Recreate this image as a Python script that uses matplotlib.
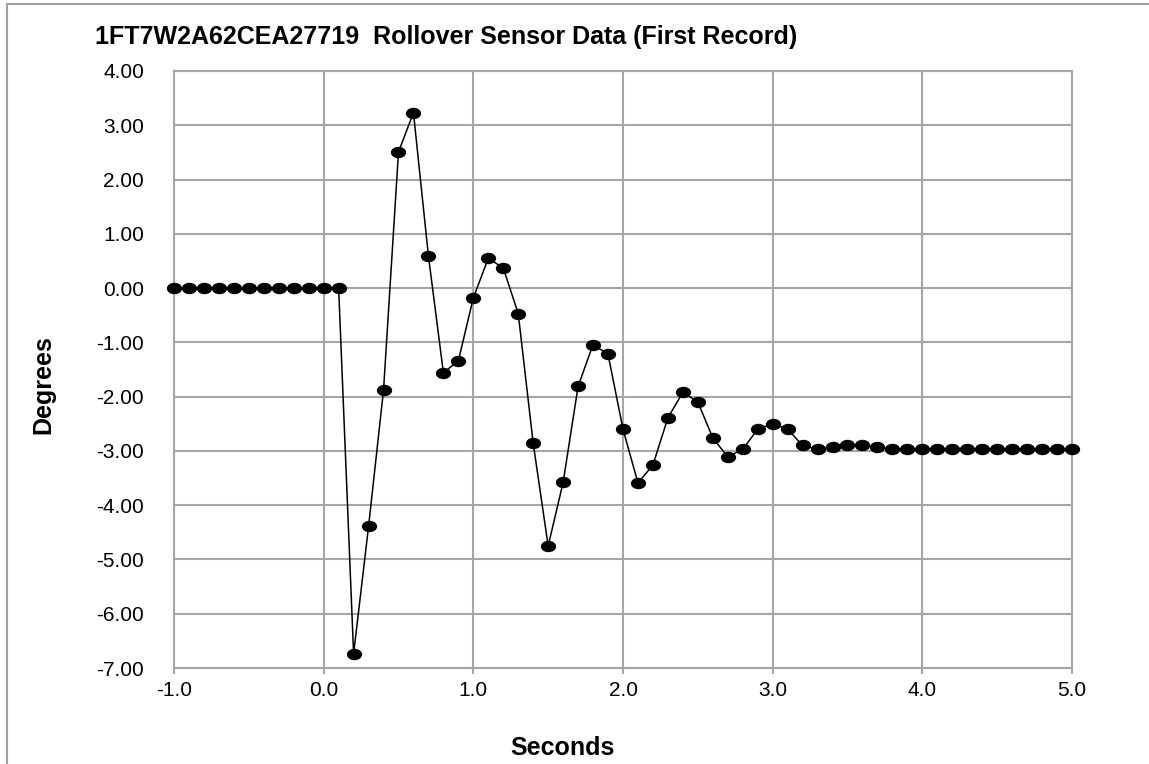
import matplotlib
matplotlib.use("Agg")
import matplotlib.pyplot as plt
from matplotlib.path import Path
from matplotlib.patches import Rectangle
import numpy as np

plt.rcParams['font.family'] = ['Liberation Sans', 'DejaVu Sans']

title = "1FT7W2A62CEA27719  Rollover Sensor Data (First Record)"
x_label = "Seconds"
y_label = "Degrees"

seconds = [round(-1.0 + 0.1 * i, 1) for i in range(61)]
degrees = [
    0.00, 0.00, 0.00, 0.00, 0.00, 0.00, 0.00, 0.00, 0.00, 0.00,   # -1.0 .. -0.1
    0.00, 0.00, -6.74, -4.39, -1.88, 2.51, 3.23, 0.59, -1.56, -1.34,  # 0.0 .. 0.9
    -0.18, 0.55, 0.37, -0.47, -2.86, -4.75, -3.58, -1.81, -1.04, -1.22,  # 1.0 .. 1.9
    -2.60, -3.59, -3.26, -2.39, -1.92, -2.10, -2.76, -3.11, -2.97, -2.60,  # 2.0 .. 2.9
    -2.50, -2.60, -2.90, -2.97, -2.93, -2.90, -2.90, -2.93, -2.97, -2.97,  # 3.0 .. 3.9
    -2.97, -2.97, -2.97, -2.97, -2.97, -2.97, -2.97, -2.97, -2.97, -2.97,  # 4.0 .. 4.9
    -2.97,  # 5.0
]

x_ticks = [-1.0, 0.0, 1.0, 2.0, 3.0, 4.0, 5.0]
y_ticks = [4, 3, 2, 1, 0, -1, -2, -3, -4, -5, -6, -7]

W, H = 1149, 764
fig = plt.figure(figsize=(W / 100, H / 100), dpi=100)
ax = fig.add_axes([174 / W, 1 - 668 / H, (1072 - 174) / W, (668 - 71) / H])

grid_c = '#A6A6A6'

# ellipse marker
circ = Path.unit_circle()
verts = circ.vertices * np.array([1.0, 0.72])
ell = Path(verts, circ.codes)

ax.plot(seconds, degrees, color='black', lw=1.1, marker=ell, markersize=10,
        markerfacecolor='black', markeredgecolor='black', zorder=3, clip_on=False)

ax.set_xlim(-1.0, 5.0)
ax.set_ylim(-7.0, 4.0)
ax.set_xticks(x_ticks)
ax.set_xticklabels([f"{v:.1f}" for v in x_ticks])
ax.set_yticks(y_ticks)
ax.set_yticklabels([f"{v:.2f}" for v in y_ticks])
ax.grid(True, color=grid_c, lw=1.5)
ax.set_axisbelow(True)
for s in ax.spines.values():
    s.set_color(grid_c)
    s.set_linewidth(1.5)
ax.tick_params(axis='x', length=4, width=1.5, color=grid_c, pad=5, labelsize=15)
ax.tick_params(axis='y', length=0, pad=21.5, labelsize=15)

fig.text(562 / W, 1 - 755 / H, x_label, fontsize=18, fontweight='bold',
         ha='center', va='baseline')
fig.text(43 / W, 1 - 385 / H, y_label, fontsize=18, fontweight='bold',
         ha='center', va='center', rotation=90)

fig.text(95 / W, 1 - 44 / H, title, fontsize=18, fontweight='bold', ha='left', va='baseline')

# outer chart border
fig.patches.append(Rectangle((7 / W, -0.1), 1.2, 1.1 - 4 / H, transform=fig.transFigure,
                             fill=False, edgecolor='#A0A0A0', lw=1.5))

fig.savefig("out.png", dpi=100)
